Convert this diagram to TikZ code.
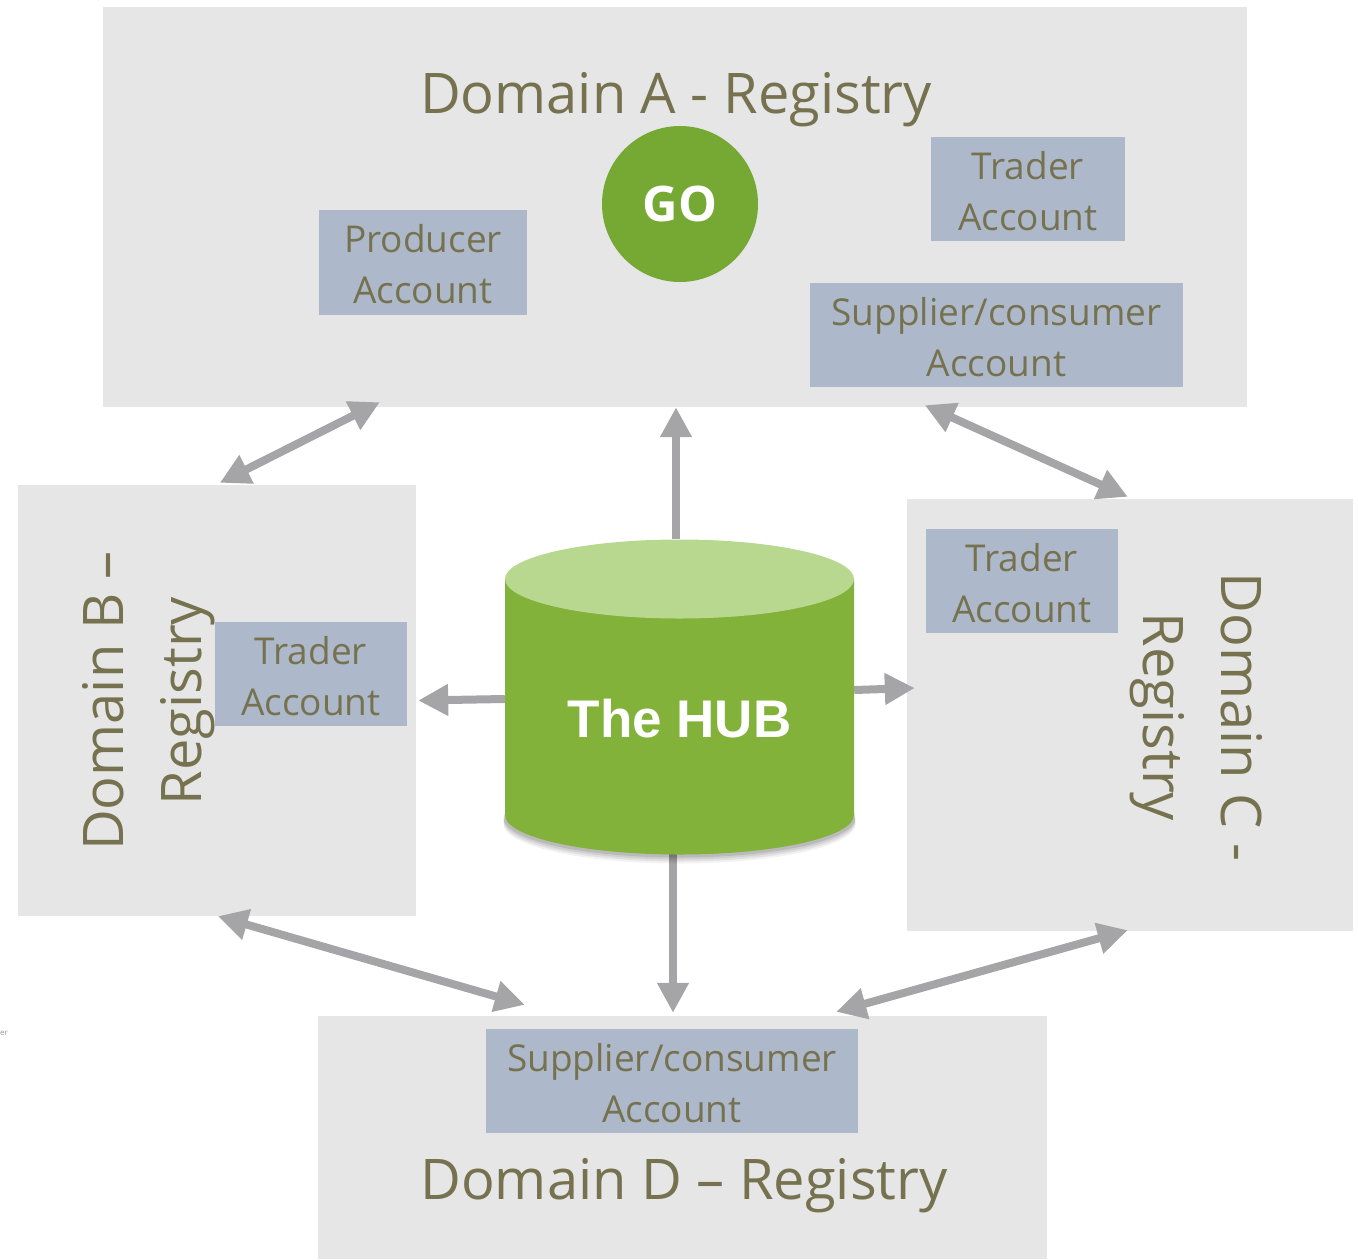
\documentclass[tikz,border=0pt]{standalone}
\usepackage{fontspec}
\setmainfont{Open Sans}
\newfontfamily\hubfont{Liberation Sans}
\usetikzlibrary{arrows.meta,calc}
\definecolor{boxgray}{RGB}{230,230,230}
\definecolor{acct}{RGB}{173,185,202}
\definecolor{olive}{RGB}{118,114,80}
\definecolor{arrgray}{RGB}{165,165,168}
\definecolor{gogreen}{RGB}{118,168,52}
\definecolor{hubbody}{RGB}{130,178,58}
\definecolor{hubtop}{RGB}{184,215,143}
\newcommand\acstrut{\rule{0pt}{32pt}}
\tikzset{
 regbox/.style={fill=boxgray, draw=none, inner sep=0pt},
 acctbox/.style={fill=acct, draw=none, inner sep=0pt, text=olive, align=center, font=\fontsize{37}{51}\selectfont},
 regtitle/.style={text=olive, font=\fontsize{56}{78}\selectfont, inner sep=0pt, align=center},
 arr/.style={draw=arrgray, line width=8pt, {Triangle[length=30pt,width=30pt]}-{Triangle[length=30pt,width=30pt]}},
 arrone/.style={draw=arrgray, line width=8pt, -{Triangle[length=30pt,width=30pt]}},
}
\begin{document}
\begin{tikzpicture}[x=1pt,y=-1pt]
\useasboundingbox (0,0) rectangle (1358,1259);
% registry boxes
\node[regbox, minimum width=1144pt, minimum height=400pt] (A) at (675,207) {};
\node[regbox, minimum width=398pt, minimum height=431pt] (B) at (217,700.5) {};
\node[regbox, minimum width=446pt, minimum height=432pt] (C) at (1130,715) {};
\node[regbox, minimum width=729pt, minimum height=243pt] (D) at (682.5,1137.5) {};
% titles
\node[regtitle, anchor=base] (tA) at (676,113) {Domain A - Registry};
\node[regtitle, rotate=90] (tB) at (149,701) {Domain B –\\Registry};
\node[regtitle, rotate=-90] (tC) at (1196,717) {Domain C -\\Registry};
\node[regtitle, anchor=base] (tD) at (684,1199) {Domain D – Registry};
% accounts
\node[acctbox, minimum width=208pt, minimum height=105pt] (prod) at (423,262.5) {\acstrut Producer\\Account};
\node[acctbox, minimum width=194pt, minimum height=104pt] (trA) at (1028,189) {\acstrut Trader\\Account};
\node[acctbox, minimum width=373pt, minimum height=104pt] (supA) at (996.5,335) {\acstrut Supplier/consumer\\Account};
\node[acctbox, minimum width=192pt, minimum height=104pt] (trB) at (311,674) {\acstrut Trader\\Account};
\node[acctbox, minimum width=192pt, minimum height=104pt] (trC) at (1022,581) {\acstrut Trader\\Account};
\node[acctbox, minimum width=372pt, minimum height=104pt] (supD) at (672,1081) {\acstrut Supplier/consumer\\Account};
% GO
\node[circle, fill=gogreen, minimum size=156pt, inner sep=0pt, text=white, font=\fontsize{49}{49}\selectfont\bfseries] (go) at (680,204) {GO};
% hub placeholder
\node[inner sep=0pt, minimum width=349pt, minimum height=316pt] (hub) at (679.5,697) {};
% arrows
\draw[arr] ([xshift=202pt,yshift=2pt]B.north west) -- ([xshift=277pt,yshift=5pt]A.south west);
\draw[arrone] ([xshift=-3.5pt]hub.north) -- ([xshift=1pt]A.south);
\draw[arr] ([xshift=822pt,yshift=2pt]A.south west) -- ([xshift=221pt,yshift=2pt]C.north west);
\draw[arrone] ([yshift=-2pt]hub.west) -- ([xshift=2pt]B.east);
\draw[arrone] ([yshift=7pt]hub.east) -- ([xshift=8pt,yshift=27pt]C.west);
\draw[arrone] ([xshift=-6.5pt,yshift=10pt]hub.south) -- ([xshift=-9.5pt,yshift=3pt]D.north);
\draw[arr] ([xshift=200pt]B.south west) -- ([xshift=207pt,yshift=11pt]D.north west);
\draw[arr] ([xshift=-211pt,yshift=4pt]D.north east) -- ([xshift=221pt,yshift=1pt]C.south west);
% cylinder shadow
\foreach \k/\o in {9/0.05,7/0.07,5/0.08,3/0.1}{
  \fill[black,opacity=\o] (679.5,815+\k) ellipse [x radius=176pt, y radius=39.5pt];
}
% cylinder body
\fill[hubbody] (505,579) -- (505,815) arc[start angle=180, end angle=360, x radius=174.5pt, y radius=39.5pt] -- (854,579) -- cycle;
\fill[hubtop] (679.5,579) ellipse [x radius=174.5pt, y radius=39.5pt];
\node[text=white, font=\hubfont\fontsize{53}{53}\selectfont\bfseries, inner sep=0pt] (hubtext) at (679.5,719) {The HUB};
% stray fragment at left edge
\node[font=\fontsize{8}{8}\selectfont, text=black!40, anchor=west, inner sep=0pt] (er) at (0,1033) {er};
\end{tikzpicture}
\end{document}
